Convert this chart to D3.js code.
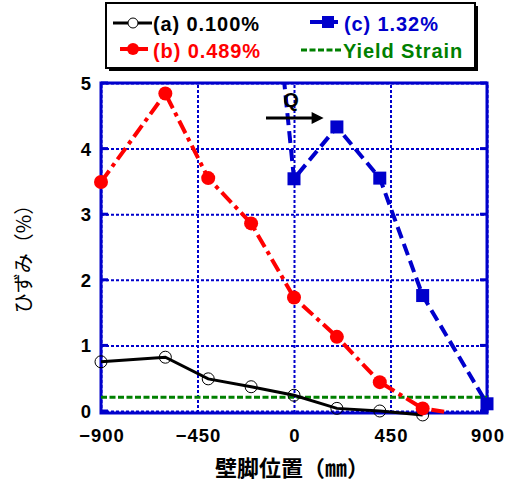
<!DOCTYPE html>
<html><head><meta charset="utf-8">
<script src="https://cdn.jsdelivr.net/npm/d3@7"></script>
<style>
body{margin:0;background:#fff;}
svg{display:block;}
</style></head>
<body>
<svg id="chart" width="510" height="483"></svg>
<script>
// ---- data ----
const seriesA_x = [-900, -600, -400, -200, 0, 200, 400, 600];
const seriesA_y = [0.75, 0.82, 0.49, 0.37, 0.24, 0.04, 0.0, -0.06];
const seriesB_x = [-900, -600, -400, -200, 0, 200, 400, 600, 700];
const seriesB_y = [3.49, 4.84, 3.55, 2.86, 1.73, 1.13, 0.44, 0.04, -0.01];
const seriesB_marker = [1, 1, 1, 1, 1, 1, 1, 1, 0];
const seriesC_x = [-200, 0, 200, 400, 600, 900];
const seriesC_y = [10.0, 3.54, 4.33, 3.55, 1.76, 0.11];
const yieldStrain = 0.21;
const xTicks = [-900, -450, 0, 450, 900];
const yTicks = [0, 1, 2, 3, 4, 5];
const legendLabels = ["(a) 0.100%", "(b) 0.489%", "(c) 1.32%", "Yield Strain"];
const xTitle = "壁脚位置（㎜）";
const yTitle = "ひずみ（%）";
const annot = "Q";

const BLUE = "#0000cc", RED = "#ff0000", GREEN = "#008000";
const svg = d3.select("#chart");
const L = 101, R = 487, T = 83, B = 413;
const x = d3.scaleLinear().domain([-900, 900]).range([L, R]);
const y = d3.scaleLinear().domain([0, 5]).range([411, T]);

svg.append("defs").append("clipPath").attr("id", "clipTop")
  .append("rect").attr("x", 0).attr("y", T).attr("width", 510).attr("height", 483 - T);
const ar = svg.select("defs").append("marker").attr("id", "arrow")
  .attr("viewBox", "0 0 10 10").attr("refX", 2).attr("refY", 5)
  .attr("markerWidth", 5).attr("markerHeight", 4).attr("markerUnits", "strokeWidth")
  .attr("orient", "auto");
ar.append("path").attr("d", "M0,0 L10,5 L0,10 z").attr("fill", "#000");

// gridlines
const gx = svg.append("g").attr("transform", `translate(0,${B})`)
  .call(d3.axisBottom(x).tickValues(xTicks).tickSize(-(B - T)).tickFormat(""));
gx.select(".domain").remove();
gx.selectAll("line").attr("stroke", BLUE).attr("stroke-width", 2).attr("stroke-dasharray", "3,2");
const gy = svg.append("g").attr("transform", `translate(${L},0)`)
  .call(d3.axisLeft(y).tickValues(yTicks).tickSize(-(R - L)).tickFormat(""));
gy.select(".domain").remove();
gy.selectAll("line").attr("stroke", BLUE).attr("stroke-width", 2).attr("stroke-dasharray", "3,2");

// inner ticks on left/right
[L, R].forEach((px, i) => {
  svg.append("g").selectAll("line").data(yTicks).join("line")
    .attr("x1", px).attr("x2", i === 0 ? px + 7 : px - 7)
    .attr("y1", d => y(d)).attr("y2", d => y(d))
    .attr("stroke", BLUE).attr("stroke-width", 3);
});

// frame
svg.append("rect").attr("x", L).attr("y", T).attr("width", R - L).attr("height", B - T)
  .attr("fill", "none").attr("stroke", BLUE).attr("stroke-width", 3);

// axis labels
const tf = sel => sel.attr("font-family", "Liberation Sans, Arial, sans-serif").attr("font-weight", "bold")
  .attr("font-size", 18.5).attr("letter-spacing", "1px").attr("fill", "#000");
const ax = svg.append("g").attr("transform", `translate(0,${B})`)
  .call(d3.axisBottom(x).tickValues(xTicks).tickSize(0).tickPadding(0).tickFormat(d3.format("d")));
ax.select(".domain").remove();
ax.selectAll("text").attr("y", 29).attr("dy", null).attr("dx", "0.5").call(tf);
const ay = svg.append("g").attr("transform", `translate(${L},0)`)
  .call(d3.axisLeft(y).tickValues(yTicks).tickSize(0).tickPadding(0).tickFormat(d3.format("d")));
ay.select(".domain").remove();
ay.selectAll("text").attr("x", -9).attr("dy", "0.35em").call(tf);

// yield line
svg.append("line").attr("x1", L).attr("x2", R).attr("y1", y(yieldStrain)).attr("y2", y(yieldStrain))
  .attr("stroke", GREEN).attr("stroke-width", 3).attr("stroke-dasharray", "6,2.5");

const line = d3.line().x(d => x(d[0])).y(d => y(d[1]));
const A = seriesA_x.map((v, i) => [v, seriesA_y[i]]);
const Bd = seriesB_x.map((v, i) => [v, seriesB_y[i], seriesB_marker[i]]);
const C = seriesC_x.map((v, i) => [v, seriesC_y[i]]);

// series lines
svg.append("path").attr("d", line(A)).attr("fill", "none").attr("stroke", "#000").attr("stroke-width", 3);
svg.append("path").attr("d", line(Bd)).attr("fill", "none").attr("stroke", RED).attr("stroke-width", 4)
  .attr("stroke-dasharray", "14,5,4,5");
svg.append("path").attr("d", line(C)).attr("fill", "none").attr("stroke", BLUE).attr("stroke-width", 4)
  .attr("stroke-dasharray", "12,6").attr("clip-path", "url(#clipTop)");

// markers
svg.append("g").selectAll("circle").data(A).join("circle")
  .attr("cx", d => x(d[0])).attr("cy", d => y(d[1])).attr("r", 6)
  .attr("fill", "none").attr("stroke", "#000").attr("stroke-width", 1);
svg.append("g").selectAll("circle").data(Bd.filter(d => d[2])).join("circle")
  .attr("cx", d => x(d[0])).attr("cy", d => y(d[1])).attr("r", 7).attr("fill", RED);
svg.append("g").attr("clip-path", "url(#clipTop)").selectAll("rect").data(C).join("rect")
  .attr("x", d => x(d[0]) - 6.5).attr("y", d => y(d[1]) - 6.5).attr("width", 13).attr("height", 13)
  .attr("fill", BLUE);

// annotation Q arrow
svg.append("line").attr("x1", 266).attr("x2", 314).attr("y1", 118).attr("y2", 118)
  .attr("stroke", "#000").attr("stroke-width", 3).attr("marker-end", "url(#arrow)");
svg.append("text").attr("x", 291).attr("y", 107).attr("text-anchor", "middle")
  .attr("font-family", "Liberation Sans, Arial, sans-serif").attr("font-weight", "bold")
  .attr("font-size", 20).text(annot);

// titles
svg.append("text").attr("x", 292).attr("y", 476).attr("text-anchor", "middle")
  .attr("font-family", "Noto Sans CJK JP").attr("font-weight", "bold").attr("font-size", 22)
  .text(xTitle);
svg.append("text").attr("transform", "translate(31,254) rotate(-90)").attr("text-anchor", "middle")
  .attr("font-family", "Noto Sans CJK JP").attr("font-weight", "normal").attr("font-size", 20)
  .text(yTitle);

// legend
const lg = svg.append("g");
lg.append("rect").attr("x", 109).attr("y", 6).attr("width", 369).attr("height", 65).attr("fill", "#000");
lg.append("rect").attr("x", 106).attr("y", 3).attr("width", 369).attr("height", 65)
  .attr("fill", "#fff").attr("stroke", "#000").attr("stroke-width", 2);
const lf = sel => sel.attr("font-family", "Liberation Sans, Arial, sans-serif").attr("font-weight", "bold")
  .attr("font-size", 20).attr("letter-spacing", "0.9px");
// (a)
lg.append("line").attr("x1", 113).attr("x2", 152).attr("y1", 23).attr("y2", 23).attr("stroke", "#000").attr("stroke-width", 3);
lg.append("circle").attr("cx", 133).attr("cy", 23).attr("r", 5).attr("fill", "#fff").attr("stroke", "#000").attr("stroke-width", 1);
lg.append("text").attr("x", 153).attr("y", 31).attr("fill", "#000").call(lf).text(legendLabels[0]);
// (b)
lg.append("line").attr("x1", 120).attr("x2", 148).attr("y1", 49).attr("y2", 49).attr("stroke", RED).attr("stroke-width", 4);
lg.append("circle").attr("cx", 133).attr("cy", 49).attr("r", 6).attr("fill", RED);
lg.append("text").attr("x", 153).attr("y", 58).attr("fill", RED).call(lf).text(legendLabels[1]);
// (c)
lg.append("line").attr("x1", 310).attr("x2", 338).attr("y1", 22).attr("y2", 22).attr("stroke", BLUE).attr("stroke-width", 4);
lg.append("rect").attr("x", 322).attr("y", 16).attr("width", 12).attr("height", 12).attr("fill", BLUE);
lg.append("text").attr("x", 344).attr("y", 31).attr("fill", BLUE).call(lf).text(legendLabels[2]);
// yield
lg.append("line").attr("x1", 301).attr("x2", 341).attr("y1", 50).attr("y2", 50).attr("stroke", GREEN).attr("stroke-width", 3).attr("stroke-dasharray", "6,2.5");
lg.append("text").attr("x", 343).attr("y", 58).attr("fill", GREEN).call(lf).text(legendLabels[3]);
</script>
</body></html>
